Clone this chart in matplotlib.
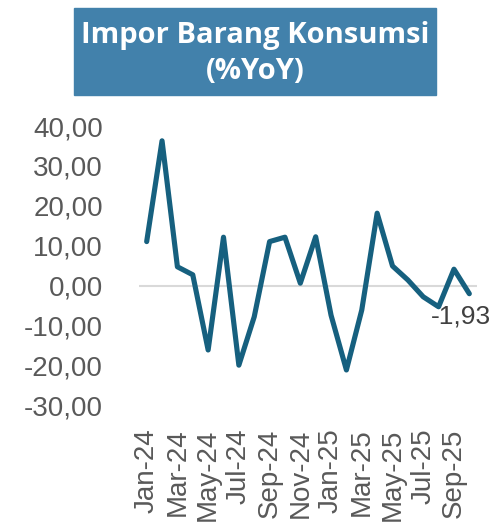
import matplotlib.pyplot as plt
from matplotlib.patches import Rectangle

# monthly consumer-goods import growth, % year on year
months = ["Jan-24", "Feb-24", "Mar-24", "Apr-24", "May-24", "Jun-24",
          "Jul-24", "Aug-24", "Sep-24", "Oct-24", "Nov-24", "Dec-24",
          "Jan-25", "Feb-25", "Mar-25", "Apr-25", "May-25", "Jun-25",
          "Jul-25", "Aug-25", "Sep-25", "Oct-25"]
yoy = [11.1, 36.3, 4.8, 2.8, -16.0, 12.2,
       -19.8, -7.7, 11.1, 12.2, 0.7, 12.3,
       -7.3, -21.0, -6.0, 18.2, 5.0, 1.5,
       -2.7, -5.2, 4.2, -1.93]
y_ticks = [-30, -20, -10, 0, 10, 20, 30, 40]

line_color = "#16607F"
box_color = "#4281AB"
tick_color = "#595959"

plt.rcParams["font.family"] = ["Liberation Sans", "DejaVu Sans"]

fig = plt.figure(figsize=(5, 5.25), dpi=100)
ax = fig.add_axes([0.278, 0.2267, 0.676, 0.5333])

x = list(range(len(months)))
ax.axhline(0, color="#D9D9D9", lw=1.5, zorder=1)
ax.plot(x, yoy, color=line_color, lw=3.7, solid_joinstyle="round",
        solid_capstyle="round", zorder=2)

# value label on the latest month
last = yoy[-1]
ax.annotate(f"{last:.2f}".replace(".", ","), (x[-1], last),
            xytext=(-6, -8), textcoords="offset points",
            ha="center", va="top", fontsize=19, color="#404040")

ax.set_xlim(-0.5, len(months) - 0.5)
ax.set_ylim(-30, 40)
ax.set_yticks(y_ticks)
ax.set_yticklabels([f"{v:.2f}".replace(".", ",") for v in y_ticks])
ax.set_xticks(x[::2])
ax.set_xticklabels(months[::2], rotation=90, ha="center", va="top")

ax.tick_params(axis="y", length=0, pad=26, labelsize=20, labelcolor=tick_color)
ax.tick_params(axis="x", length=0, pad=16, labelsize=20, labelcolor=tick_color)
for s in ax.spines.values():
    s.set_visible(False)

# title banner
fig.patches.append(Rectangle((0.148, 0.819), 0.724, 0.1657,
                             transform=fig.transFigure, color=box_color,
                             zorder=0))
fig.text(0.51, 0.898, "Impor Barang Konsumsi\n(%YoY)", ha="center",
         va="center", color="white", fontsize=21, fontweight="bold",
         family=["Open Sans", "DejaVu Sans"], linespacing=1.3)

fig.savefig("out.png", dpi=100)
